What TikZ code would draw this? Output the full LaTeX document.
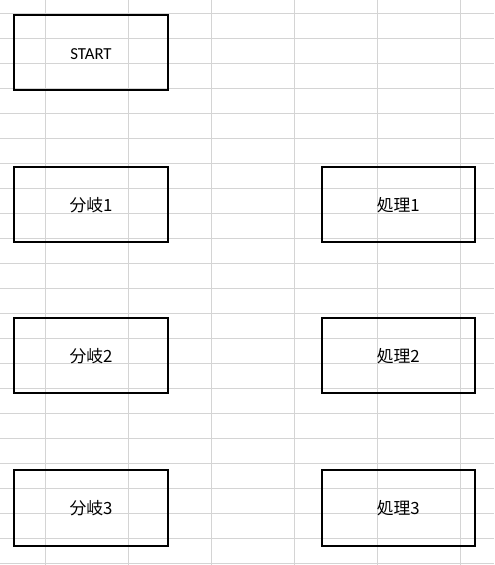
\documentclass[tikz,border=0pt]{standalone}
\usepackage{fontspec}
\setmainfont{Carlito}
\newfontfamily\jpfont{Noto Sans CJK JP}
\usepackage{tikz}
\tikzset{every picture/.style={line width=0.75pt}}
\tikzset{
  gridline/.style={color={rgb, 255:red, 212; green, 212; blue, 212 }, line width=0.75pt},
  cellbox/.style={draw, line width=1.5pt, minimum width=115.1pt, minimum height=56.6pt, inner sep=0pt,
    text height=12pt, text depth=1.8pt, font=\fontsize{12.6}{15}\selectfont},
}

\begin{document}
\begin{tikzpicture}[x=0.75pt,y=0.75pt,yscale=-1,xscale=1]
\useasboundingbox (0,0) rectangle (494,565);

%Grid: columns
\foreach \gx in {45.3,128.3,211.3,294.3,377.3,460.3}
  \draw [gridline] (\gx,0) -- (\gx,565);
%Grid: rows
\foreach \gy in {0,...,22}
  \draw [gridline] (0,13.3+25*\gy) -- (494,13.3+25*\gy);

%Shape: Rectangle [START]
\node [cellbox] (start) at (91,52.6) {START};
%Shape: Rectangle [branches]
\node [cellbox] (branch1) at (91,204.4) {\jpfont 分岐1};
\node [cellbox] (branch2) at (91,355.7) {\jpfont 分岐2};
\node [cellbox] (branch3) at (91,507.8) {\jpfont 分岐3};
%Shape: Rectangle [processes]
\node [cellbox] (proc1) at (398.3,204.4) {\jpfont 処理1};
\node [cellbox] (proc2) at (398.3,355.7) {\jpfont 処理2};
\node [cellbox] (proc3) at (398.3,507.8) {\jpfont 処理3};

\end{tikzpicture}
\end{document}
